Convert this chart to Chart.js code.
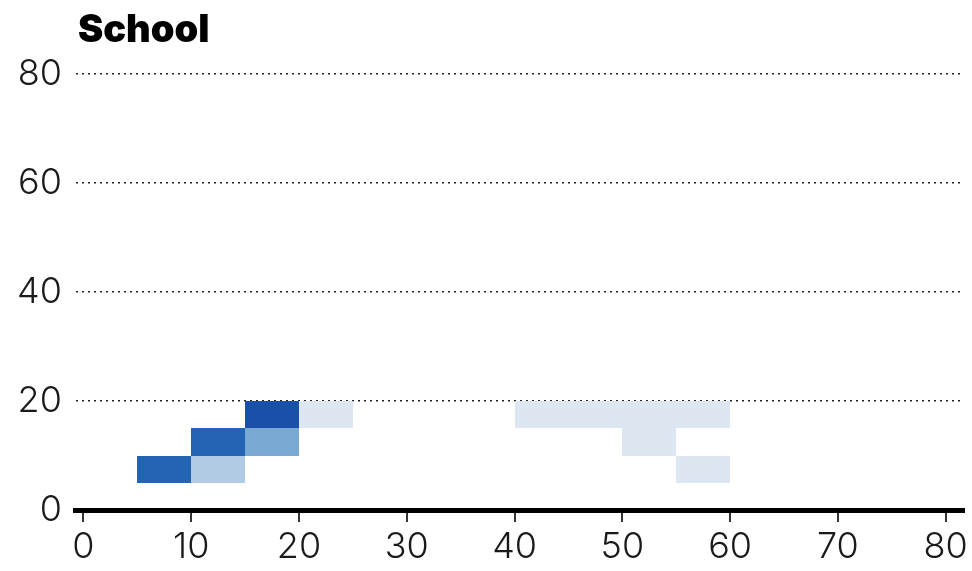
<!DOCTYPE html>
<html>
<head>
<meta charset="utf-8">
<script src="https://cdn.jsdelivr.net/npm/chart.js@4.4.1/dist/chart.umd.min.js"></script>
<style>
  html, body { margin: 0; padding: 0; background: #fff; }
  #wrap { width: 972px; height: 571px; position: relative; }
</style>
</head>
<body>
<div id="wrap"><canvas id="school"></canvas></div>
<script>
// cells of the grid, 5 x 5 bins (lower-left corner of each bin)
const binSize = 5;
const cellX = [5, 10, 10, 15, 15, 20, 40, 45, 50, 55, 50, 55];
const cellY = [5, 5, 10, 10, 15, 15, 15, 15, 15, 15, 10, 5];
const cellCount = [4, 2, 4, 3, 5, 1, 1, 1, 1, 1, 1, 1];

// shade for each count
const shades = ["#ffffff", "#dce7f2", "#b2cbe5", "#7aa9d3", "#2364b4", "#1a50a9"];

const xTicks = [0, 10, 20, 30, 40, 50, 60, 70, 80];
const yTicks = [0, 20, 40, 60, 80];

const cells = cellX.map((x, i) => ({ x: x, y: cellY[i], v: cellCount[i] }));

// draws each bin as a rectangle using the chart's own scales
const binPlugin = {
  id: "bins",
  beforeDatasetsDraw(chart) {
    const ctx = chart.ctx;
    const xs = chart.scales.x, ys = chart.scales.y;
    ctx.save();
    chart.data.datasets[0].data.forEach(c => {
      const x0 = Math.round(xs.getPixelForValue(c.x));
      const x1 = Math.round(xs.getPixelForValue(c.x + binSize));
      const y0 = Math.round(ys.getPixelForValue(c.y + binSize));
      const y1 = Math.round(ys.getPixelForValue(c.y));
      ctx.fillStyle = shades[c.v];
      ctx.fillRect(x0, y0, x1 - x0, y1 - y0);
    });
    ctx.restore();
  }
};

// heading above the plot
const headingPlugin = {
  id: "heading",
  afterDraw(chart) {
    const ctx = chart.ctx;
    ctx.save();
    ctx.fillStyle = "#000";
    ctx.font = "900 38px Inter";
    ctx.textBaseline = "alphabetic";
    ctx.fillText("School", chart.chartArea.left + 2, 42);
    ctx.restore();
  }
};

const tickFont = { family: "Inter", size: 36, weight: "300" };

new Chart(document.getElementById("school"), {
  type: "scatter",
  data: {
    datasets: [{
      data: cells,
      pointRadius: 0,
      pointHoverRadius: 0
    }]
  },
  options: {
    responsive: true,
    maintainAspectRatio: false,
    animation: false,
    layout: {
      padding: { top: 74, right: 7, bottom: 0, left: 3 }
    },
    scales: {
      x: {
        type: "linear",
        min: -0.7,
        max: 81.7,
        afterBuildTicks: axis => { axis.ticks = xTicks.map(v => ({ value: v })); },
        afterFit: axis => { axis.height = 61; },
        border: { display: true, color: "#000", width: 5 },
        grid: {
          drawOnChartArea: false,
          drawTicks: true,
          tickLength: 12,
          color: "#333",
          lineWidth: 2
        },
        ticks: {
          color: "#1a1a1a",
          padding: 4,
          maxRotation: 0,
          font: tickFont
        }
      },
      y: {
        min: 0,
        max: 80,
        afterBuildTicks: axis => { axis.ticks = yTicks.map(v => ({ value: v })); },
        border: { display: false, dash: [2, 4] },
        grid: {
          drawTicks: false,
          color: ctx => ctx.tick.value === 0 ? "rgba(0,0,0,0)" : "#222",
          lineWidth: 1.6
        },
        ticks: {
          color: "#1a1a1a",
          padding: 14,
          font: tickFont
        }
      }
    },
    plugins: {
      legend: { display: false },
      tooltip: { enabled: false }
    }
  },
  plugins: [binPlugin, headingPlugin]
});
</script>
</body>
</html>
